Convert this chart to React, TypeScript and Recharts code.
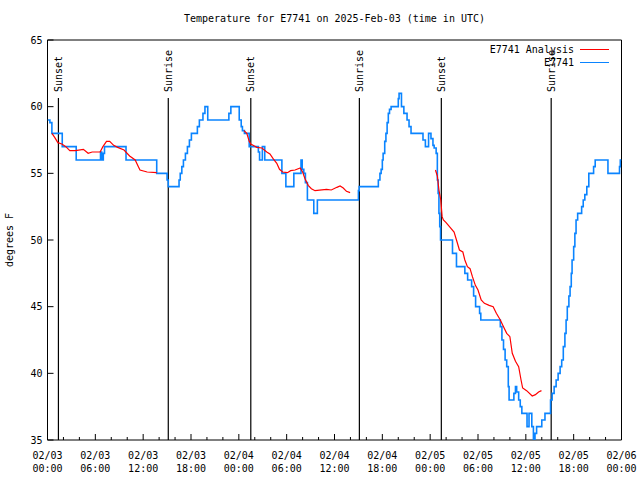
import React from 'react';
import { LineChart, Line, XAxis, YAxis, ReferenceLine, ReferenceArea, Legend } from 'recharts';

const FONT = '"DejaVu Sans Mono", monospace';

// hours since 2025-02-03 00:00 UTC, observed temperature (deg F)
const obsHours = [
  0, 0.3, 0.55, 1.85, 3.6, 6.65, 6.8, 7.0, 7.15, 9.85, 13.7, 15.0, 15.15, 16.5, 16.65, 16.85, 17.05, 17.3,
  17.55, 17.8, 18.05, 18.8, 19.05, 19.5, 19.75, 20.1, 22.75, 23.0, 24.05, 24.3, 24.45, 24.7, 25.3, 26.45,
  26.6, 26.95, 27.25, 29.4, 29.9, 30.9, 31.8, 31.95, 32.15, 32.35, 32.6, 33.4, 33.85, 39.0, 39.1, 41.5,
  41.7, 41.85, 42.0, 42.1, 42.3, 42.45, 42.6, 42.75, 42.9, 43.1, 44.0, 44.1, 44.4, 44.7, 45.1, 45.35,
  45.6, 47.1, 47.4, 47.8, 48.1, 48.35, 48.5, 48.75, 48.9, 49.0, 49.1, 49.2, 49.3, 50.8, 51.3, 52.35,
  52.7, 53.2, 53.45, 53.7, 54.2, 54.35, 56.8, 57.0, 57.2, 57.4, 57.6, 57.8, 57.9, 58.5, 58.7, 58.85,
  59.1, 59.3, 59.5, 60.15, 60.4, 60.75, 60.95, 61.15, 61.35, 62.0, 62.4, 63.1, 63.3, 63.55, 63.8, 64.05,
  64.3, 64.5, 64.7, 64.9, 65.05, 65.2, 65.4, 65.55, 65.7, 65.8, 66.0, 66.15, 66.3, 66.5, 67.0, 67.2,
  67.4, 67.65, 67.9, 68.5, 68.7, 70.3, 71.75, 71.85, 72,
];
const obsTemps = [
  59, 58.8, 58, 57, 56, 56.6, 56, 56.5, 57, 56, 55, 54.5, 54, 54.5, 55, 55.5, 56, 56.5,
  57, 57.5, 58, 58.5, 59, 59.5, 60, 59, 59.5, 60, 59, 58.5, 58.2, 58, 57, 56.6,
  56, 57, 56, 55, 54, 55, 56, 55.3, 55, 54.3, 53, 52, 53, 53.7, 54, 54.5,
  55, 55.3, 56, 56.5, 57.4, 58, 58.8, 59.5, 59.8, 60, 60.6, 61, 60, 59.5, 59, 58.5,
  58, 57.5, 57, 58, 57.6, 57.1, 56.9, 56.5, 54.5, 53.5, 52, 51, 50, 49, 48, 47.5,
  47, 46.5, 45.8, 45, 44.5, 44, 43.5, 42.5, 41.8, 41, 40.5, 39, 38, 38.5, 39, 38.6,
  38, 37.5, 37, 36, 37, 36, 35, 35.5, 36, 36.5, 37, 38, 38.5, 39, 39.5, 40,
  40.5, 41, 42, 43, 44, 45, 45.8, 46.5, 47.5, 48.5, 49.5, 50.5, 51.5, 52, 52.5, 53,
  53.4, 54, 55, 55.5, 56, 55, 55.5, 56, 56,
];

// analysis temperature (deg F); null = no analysis
const anaHours = [
  0.56, 0.9, 1.3, 1.8, 2.3, 2.8, 3.5, 4.5, 5.1, 5.6, 6.6, 6.95, 7.4, 7.8, 8.3, 8.8, 9.6, 10.3, 11.0,
  11.4, 11.6, 12.5, 13.7, 19, 24.65, 25.0, 25.3, 25.5, 26.25, 26.9, 27.5, 27.9, 28.3, 28.76, 29.1, 29.5,
  30.1, 30.5, 31.05, 31.7, 32.0, 32.3, 32.7, 33.1, 33.56, 35.0, 35.6, 36.3, 36.7, 37.1, 37.5, 37.96, 43,
  48.66, 48.9, 49.1, 49.33, 49.5, 49.66, 50.0, 50.5, 51.0, 51.3, 51.67, 52.1, 52.35, 52.67, 53.0, 53.3,
  53.67, 54.0, 54.4, 54.8, 55.4, 55.9, 56.3, 56.8, 57.2, 57.6, 58.0, 58.3, 58.7, 59.1, 59.4, 59.6, 60.1,
  60.8, 61.2, 61.6, 61.96,
];
const anaTemps = [
  58, 57.7, 57.3, 57.2, 57, 56.7, 56.7, 56.8, 56.5, 56.6, 56.6, 57, 57.4, 57.4, 57.1, 56.95, 56.75, 56.3, 56.0,
  55.5, 55.25, 55.1, 55.05, null, 58.2, 58, 57.4, 57.2, 56.95, 56.9, 56.6, 56.45, 56.1, 55.75, 55.3, 55.1,
  55.05, 55.2, 55.25, 55.4, 55.1, 54.6, 54.1, 53.85, 53.7, 53.8, 53.75, 53.95, 54.05, 53.9, 53.65, 53.55, null,
  55.25, 54.8, 53.75, 53, 51.75, 51.5, 51.3, 50.95, 50.6, 50, 49.25, 49.1, 48.5, 48, 47.85, 47.25,
  46.6, 46.25, 45.5, 45.25, 45.1, 45, 44.5, 44, 43.5, 43, 42.75, 41.5, 40.9, 40.5, 39.5, 38.9, 38.7,
  38.3, 38.4, 38.6, 38.7,
];

const sunHours = [1.37, 15.15, 25.5, 39.12, 49.4, 63.18];
const sunLabels = ['Sunset', 'Sunrise', 'Sunset', 'Sunrise', 'Sunset', 'Sunrise'];
const SUN_LINE_TOP = 60.65;

const xTicks = [
  0, 2, 4, 6, 8, 10, 12, 14, 16, 18, 20, 22, 24, 26, 28, 30, 32, 34, 36,
  38, 40, 42, 44, 46, 48, 50, 52, 54, 56, 58, 60, 62, 64, 66, 68, 70, 72,
];
const yTicks = [35, 40, 45, 50, 55, 60, 65];

const obsData = obsHours.map((h, i) => ({ h, t: obsTemps[i] }));
const anaData = anaHours.map((h, i) => ({ h, t: anaTemps[i] }));

const pad = (n: number) => (n < 10 ? `0${n}` : `${n}`);

const BottomTick = (props: any) => {
  const { x, y, payload } = props;
  const h = payload.value;
  const major = h % 6 === 0;
  return (
    <g>
      <line x1={x} y1={y} x2={x} y2={y - (major ? 6 : 3)} stroke="#000" />
      {major && (
        <text textAnchor="middle" fontFamily={FONT} fontSize={10} fill="#000">
          <tspan x={x} y={y + 18.5}>{`02/${pad(3 + Math.floor(h / 24))}`}</tspan>
          <tspan x={x} y={y + 31.5}>{`${pad(h % 24)}:00`}</tspan>
        </text>
      )}
    </g>
  );
};

const TopTick = (props: any) => {
  const { x, y, payload } = props;
  const major = payload.value % 6 === 0;
  return <line x1={x} y1={y} x2={x} y2={y + (major ? 6 : 3)} stroke="#000" />;
};

const LeftTick = (props: any) => {
  const { x, y, payload } = props;
  return (
    <g>
      <line x1={x} y1={y} x2={x + 6} y2={y} stroke="#000" />
      <text x={x - 5} y={y + 3.5} textAnchor="end" fontFamily={FONT} fontSize={10} fill="#000">
        {payload.value}
      </text>
    </g>
  );
};

const RightTick = (props: any) => {
  const { x, y } = props;
  return <line x1={x} y1={y} x2={x - 6} y2={y} stroke="#000" />;
};

const SunLabel = (props: any) => {
  const { viewBox, text } = props;
  const x = viewBox.x + 3.5;
  const y = viewBox.y - 6;
  return (
    <text x={x} y={y} transform={`rotate(-90 ${x} ${y})`} fontFamily={FONT} fontSize={10} fill="#000">
      {text}
    </text>
  );
};

const LegendBox = (props: any) => {
  const items = [...(props.payload || [])].reverse();
  return (
    <div style={{ fontFamily: FONT, fontSize: 10, lineHeight: '13.3px', color: '#000' }}>
      {items.map((item: any) => (
        <div key={item.value} style={{ display: 'flex', justifyContent: 'flex-end', alignItems: 'center' }}>
          <span>{item.value}</span>
          <span style={{ display: 'inline-block', width: 29, borderTop: `1px solid ${item.color}`, marginLeft: 6 }} />
        </div>
      ))}
    </div>
  );
};

export default function App() {
  return (
    <div style={{ position: 'absolute', left: 0, top: 0, width: 640, height: 480, background: '#fff' }}>
      <div
        style={{
          position: 'absolute', left: 47.5, top: 13, width: 574, textAlign: 'center',
          fontFamily: FONT, fontSize: 10, lineHeight: '12px', color: '#000', zIndex: 2,
        }}
      >
        Temperature for E7741 on 2025-Feb-03 (time in UTC)
      </div>
      <div
        style={{
          position: 'absolute', left: -40, top: 234, width: 100, height: 12, textAlign: 'center',
          transform: 'rotate(-90deg)', fontFamily: FONT, fontSize: 10, lineHeight: '12px', color: '#000', zIndex: 2,
        }}
      >
        degrees F
      </div>
      <LineChart width={640} height={480} margin={{ top: 40, right: 18.5, bottom: 0, left: 7.5 }}>
        <XAxis
          type="number" dataKey="h" domain={[0, 72]} ticks={xTicks} interval={0} height={40}
          axisLine={false} tickLine={false} tickSize={0} tickMargin={0} tick={<BottomTick />} allowDataOverflow
        />
        <XAxis
          xAxisId="top" orientation="top" type="number" dataKey="h" domain={[0, 72]} ticks={xTicks} interval={0}
          height={0} axisLine={false} tickLine={false} tickSize={0} tickMargin={0} tick={<TopTick />} allowDataOverflow
        />
        <YAxis
          domain={[35, 65]} ticks={yTicks} interval={0} width={40} axisLine={false} tickLine={false}
          tickSize={0} tickMargin={0} tick={<LeftTick />} allowDataOverflow
        />
        <YAxis
          yAxisId="right" orientation="right" domain={[35, 65]} ticks={yTicks} interval={0} width={0}
          axisLine={false} tickLine={false} tickSize={0} tickMargin={0} tick={<RightTick />} allowDataOverflow
        />
        <ReferenceArea x1={0} x2={72} y1={35} y2={65} fill="none" fillOpacity={0} stroke="#000" strokeWidth={1} />
        {sunHours.map((h, i) => (
          <ReferenceLine
            key={`sun-${i}`}
            segment={[{ x: h, y: 35 }, { x: h, y: SUN_LINE_TOP }]}
            stroke="#000"
            strokeWidth={1.2}
            label={<SunLabel text={sunLabels[i]} />}
          />
        ))}
        <Line
          data={obsData} dataKey="t" name="E7741" type="stepAfter" stroke="#0a84ff" strokeWidth={1.6}
          dot={false} activeDot={false} isAnimationActive={false}
        />
        <Line
          data={anaData} dataKey="t" name="E7741 Analysis" type="linear" stroke="#ff0000" strokeWidth={1.2}
          dot={false} activeDot={false} connectNulls={false} isAnimationActive={false}
        />
        <Legend
          layout="horizontal" verticalAlign="middle" align="center" content={<LegendBox />}
          wrapperStyle={{ top: 43, right: 31, left: 'auto', bottom: 'auto', width: 'auto' }}
        />
      </LineChart>
    </div>
  );
}
